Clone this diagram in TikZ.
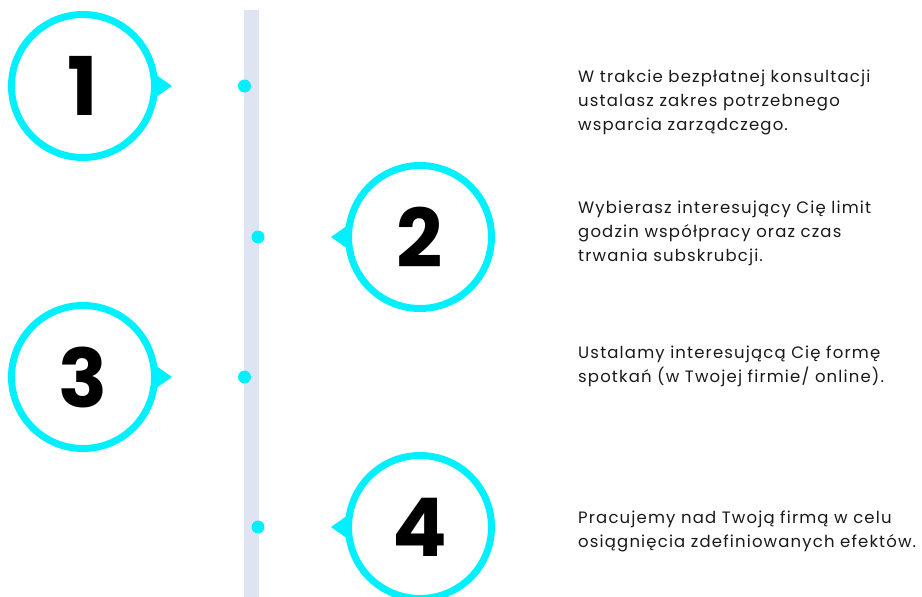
\documentclass[tikz,border=0pt]{standalone}
\usepackage{fontspec}
\setmainfont{Poppins}
\newfontfamily\infofont{Poppins}[LetterSpace=7]
\usetikzlibrary{calc}
\definecolor{ringcyan}{RGB}{0,240,255}
\definecolor{barblue}{RGB}{223,228,242}
\tikzset{
	ring/.style={circle, draw=ringcyan, line width=7pt, minimum size=143pt,
		inner sep=0pt, font=\fontsize{81}{81}\selectfont\bfseries},
	dot/.style={circle, fill=ringcyan, minimum size=13pt, inner sep=0pt},
	info/.style={anchor=north west, align=left, inner sep=0pt,
		text=black!90, font=\infofont\fontsize{16.5}{24}\selectfont}
}
\begin{document}
\begin{tikzpicture}[x=1pt, y=-1pt]
	\useasboundingbox (0,0) rectangle (922,597);
	\clip (0,0) rectangle (922,597);
	% Zeitleiste
	\fill[barblue] (244,10) rectangle (259,597);
	\node[dot] (d1) at (244.5,86) {};
	\node[dot] (d2) at (258,237) {};
	\node[dot] (d3) at (244.5,377) {};
	\node[dot] (d4) at (258,527) {};
	% Kreise mit Nummern
	\foreach \n/\x/\y/\a in {1/83/86/0, 2/420/237/180, 3/83/377/0, 4/420/527/180}
	{
		\node[ring] (c\n) at (\x,\y) {\n};
		\fill[ringcyan] ($(c\n.center)+(\a+11:71)$) -- ($(c\n.center)+(\a:89)$)
			-- ($(c\n.center)+(\a-11:71)$) -- cycle;
	}
	% Beschreibungen
	\node[info] (t1) at (578,70) {W trakcie bezpłatnej konsultacji\\ustalasz zakres potrzebnego\\wsparcia zarządczego.};
	\node[info] (t2) at (578,201) {Wybierasz interesujący Cię limit\\godzin współpracy oraz czas\\trwania subskrubcji.};
	\node[info] (t3) at (578,346) {Ustalamy interesującą Cię formę\\spotkań (w Twojej firmie/ online).};
	\node[info] (t4) at (578,511) {Pracujemy nad Twoją firmą w celu\\osiągnięcia zdefiniowanych efektów.};
\end{tikzpicture}
\end{document}
